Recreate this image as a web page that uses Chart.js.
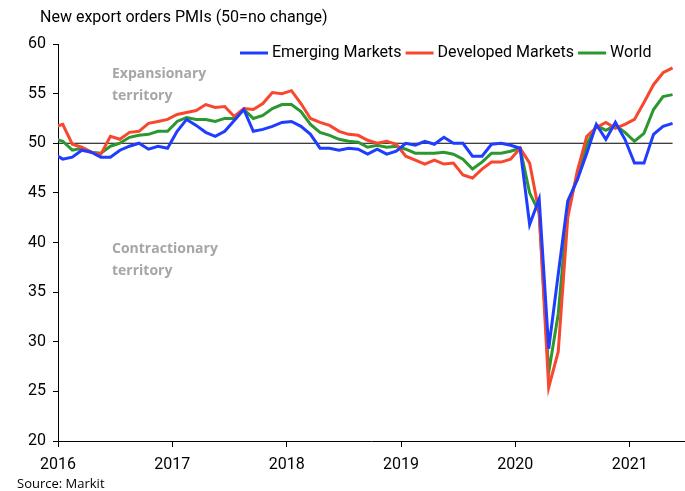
<!DOCTYPE html>
<html>
<head>
<meta charset="utf-8">
<script src="https://cdn.jsdelivr.net/npm/chart.js@4.4.1/dist/chart.umd.min.js"></script>
<style>
  html, body { margin: 0; padding: 0; background: #fff; }
  #pmi { display: block; }
</style>
</head>
<body>
<canvas id="pmi" width="685" height="491"></canvas>
<script>
// monthly readings, Dec 2015 .. May 2021 (first value sits just left of the axis and gets clipped)
var emerging = [
  49.0,
  48.4, 48.6, 49.3, 49.1, 48.6, 48.6, 49.3, 49.7, 50.0, 49.4, 49.7, 49.5,
  51.2, 52.4, 51.8, 51.1, 50.7, 51.2, 52.3, 53.4, 51.2, 51.4, 51.7, 52.1,
  52.2, 51.7, 50.9, 49.5, 49.5, 49.3, 49.5, 49.4, 48.9, 49.4, 48.9, 49.2,
  50.0, 49.8, 50.2, 49.9, 50.6, 50.0, 50.0, 48.7, 48.7, 49.9, 50.0, 49.8,
  49.5, 41.8, 44.4, 29.3, 36.8, 44.2, 46.3, 49.0, 51.9, 50.4, 52.1, 50.4,
  48.0, 48.0, 50.9, 51.7, 52.0
];
var developed = [
  51.6,
  51.9, 49.9, 49.6, 49.1, 48.9, 50.7, 50.4, 51.1, 51.2, 52.0, 52.2, 52.4,
  52.9, 53.1, 53.3, 53.9, 53.6, 53.7, 52.7, 53.5, 53.4, 54.0, 55.1, 55.0,
  55.3, 54.0, 52.5, 52.1, 51.8, 51.2, 50.9, 50.8, 50.3, 50.0, 50.2, 49.9,
  48.7, 48.3, 47.9, 48.3, 47.9, 48.0, 46.8, 46.5, 47.4, 48.1, 48.1, 48.4,
  49.5, 48.0, 43.0, 25.4, 29.0, 42.5, 47.2, 50.7, 51.6, 52.1, 51.5, 51.9,
  52.4, 54.1, 55.9, 57.1, 57.6
];
var world = [
  50.5,
  50.2, 49.3, 49.5, 49.1, 49.0, 49.7, 50.0, 50.6, 50.8, 50.9, 51.2, 51.2,
  52.2, 52.6, 52.4, 52.4, 52.2, 52.5, 52.5, 53.4, 52.5, 52.8, 53.5, 53.9,
  53.9, 53.2, 51.9, 51.1, 50.8, 50.4, 50.2, 50.1, 49.6, 49.8, 49.6, 49.7,
  49.4, 49.0, 49.0, 49.0, 49.1, 48.9, 48.4, 47.4, 48.1, 49.0, 49.0, 49.2,
  49.5, 45.0, 43.0, 26.9, 32.8, 43.5, 46.7, 49.9, 51.8, 51.3, 51.8, 51.1,
  50.2, 51.0, 53.4, 54.7, 54.9
];
var seriesNames = ["Emerging Markets", "Developed Markets", "World"];
var seriesColors = ["#1f3dff", "#f8472f", "#2b982f"];
var yearLabels = ["2016", "2017", "2018", "2019", "2020", "2021"];
var noChange = 50;

var tickFont = { family: "Roboto", size: 16 };

// x = months since Jan 2016, plotted mid-month
function toPoints(values) {
  return values.map(function (v, i) { return { x: i - 0.5, y: v }; });
}

function lineSet(i, values) {
  return {
    label: seriesNames[i],
    data: toPoints(values),
    borderColor: seriesColors[i],
    backgroundColor: seriesColors[i],
    borderWidth: 3,
    pointRadius: 0,
    tension: 0,
    order: 1
  };
}

var lastX = emerging.length - 1.5;

// texts that sit on the canvas outside the library's own boxes
var extraText = {
  id: "extraText",
  afterDraw: function (chart) {
    var c = chart.ctx;
    c.save();
    c.textBaseline = "middle";
    c.fillStyle = "#000";
    c.font = "16px Roboto";
    c.fillText("New export orders PMIs (50=no change)", 40, 18);

    // legend
    var x = 240;
    for (var i = 0; i < seriesNames.length; i++) {
      c.strokeStyle = seriesColors[i];
      c.lineWidth = 3;
      c.beginPath();
      c.moveTo(x, 53);
      c.lineTo(x + 28, 53);
      c.stroke();
      c.fillStyle = "#000";
      c.fillText(seriesNames[i], x + 32, 53);
      x += 32 + c.measureText(seriesNames[i]).width + 4;
    }

    c.fillStyle = "#a6a6a6";
    c.font = "bold 14px 'Open Sans'";
    c.fillText("Expansionary", 112, 74);
    c.fillText("territory", 112, 96);
    c.fillText("Contractionary", 112, 249);
    c.fillText("territory", 112, 271);

    c.fillStyle = "#000";
    c.font = "13px 'Open Sans'";
    c.fillText("Source: Markit", 17, 484);
    c.restore();
  }
};

var ctx = document.getElementById("pmi").getContext("2d");
var pmiChart = new Chart(ctx, {
  type: "line",
  data: {
    datasets: [
      lineSet(0, emerging),
      lineSet(1, developed),
      lineSet(2, world),
      {
        label: "50",
        data: [{ x: 0, y: noChange }, { x: lastX, y: noChange }],
        borderColor: "#000",
        borderWidth: 1,
        pointRadius: 0,
        order: 5
      }
    ]
  },
  options: {
    responsive: false,
    animation: false,
    layout: { padding: { top: 44, right: 1, bottom: 0, left: 0 } },
    plugins: {
      legend: { display: false },
      tooltip: { enabled: false }
    },
    scales: {
      x: {
        type: "linear",
        min: 0,
        max: 65.7,
        afterBuildTicks: function (s) {
          s.ticks = yearLabels.map(function (y, i) { return { value: i * 12 }; });
        },
        afterFit: function (s) { s.height = 50; },
        ticks: {
          autoSkip: false,
          maxRotation: 0,
          padding: 8,
          color: "#000",
          font: tickFont,
          callback: function (v) { return yearLabels[v / 12]; }
        },
        grid: { drawOnChartArea: false, tickLength: 6, tickColor: "#000" },
        border: { color: "#000", width: 1 }
      },
      y: {
        min: 20,
        max: 60,
        afterFit: function (s) { s.width = 58; },
        ticks: { stepSize: 5, padding: 7, color: "#000", font: tickFont },
        grid: { drawOnChartArea: false, tickLength: 5, tickColor: "#000" },
        border: { color: "#000", width: 1 }
      }
    }
  },
  plugins: [extraText]
});
</script>
</body>
</html>
